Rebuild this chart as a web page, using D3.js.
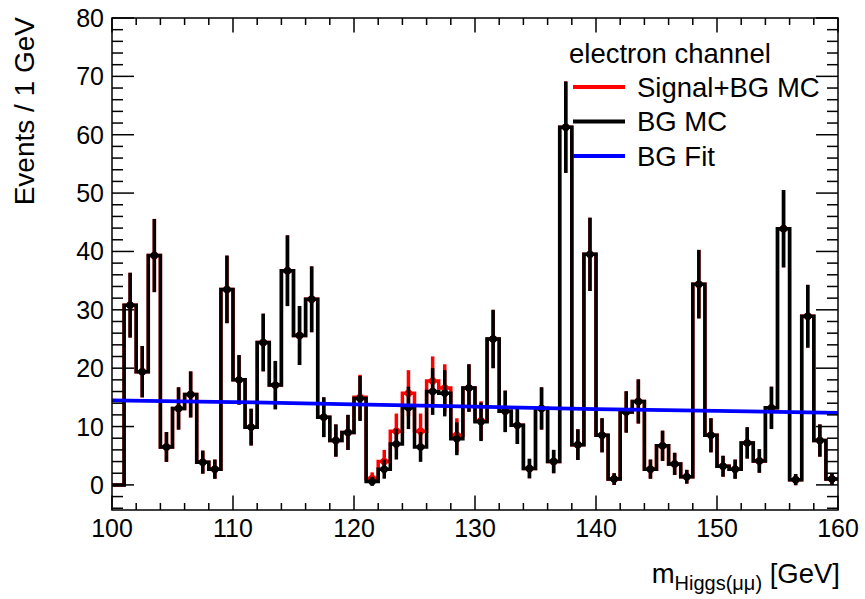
<!DOCTYPE html>
<html><head><meta charset="utf-8">
<script src="https://cdn.jsdelivr.net/npm/d3@7/dist/d3.min.js"></script>
<style>
html,body{margin:0;padding:0;background:#fff;}
svg text{font-family:"Liberation Sans",Arial,Helvetica,sans-serif;fill:#000;}
</style></head>
<body>
<svg id="c" width="865" height="599"></svg>
<script>
// ---- data ----
const binLow = [100,101,102,103,104,105,106,107,108,109,110,111,112,113,114,115,116,117,118,119,
                120,121,122,123,124,125,126,127,128,129,130,131,132,133,134,135,136,137,138,139,
                140,141,142,143,144,145,146,147,148,149,150,151,152,153,154,155,156,157,158,159];
const bgMC = [0,30.8,19.4,39.3,6.5,13.1,15.5,3.9,2.7,33.5,
              18.0,9.9,24.4,17.1,36.7,25.6,31.8,11.6,7.6,9.0,
              14.8,0.6,2.7,7.0,13.2,6.5,16.0,15.7,7.9,16.6,
              10.8,25.0,12.6,10.2,2.8,13.1,4.0,61.3,6.9,39.5,
              8.5,1.0,12.5,14.3,2.7,6.7,3.6,1.4,34.4,8.5,
              3.2,2.7,7.2,4.1,13.2,43.9,0.9,28.9,7.6,1.0];
const bgErr = [0,5.55,4.40,6.27,2.55,3.62,3.94,1.97,1.64,5.79,
               4.24,3.15,4.94,4.14,6.06,5.06,5.64,3.41,2.76,3.00,
               3.85,0.77,1.64,2.65,3.63,2.55,4.00,3.96,2.81,4.07,
               3.29,5.00,3.55,3.19,1.67,3.62,2.00,7.83,2.63,6.28,
               2.92,1.00,3.54,3.78,1.64,2.59,1.90,1.18,5.87,2.92,
               1.79,1.64,2.68,2.02,3.63,6.63,0.95,5.38,2.76,1.00];
const sigBG = [0,30.8,19.4,39.3,6.5,13.1,15.5,3.9,2.7,33.5,
               18.0,9.9,24.4,17.1,36.7,25.6,31.8,11.6,7.6,9.0,
               15.0,1.1,4.0,9.2,15.7,9.2,17.8,16.6,8.5,16.6,
               11.0,25.0,12.6,10.2,2.8,13.1,4.0,61.3,6.9,39.5,
               8.5,1.0,12.5,14.3,2.7,6.7,3.6,1.4,34.4,8.5,
               3.2,2.7,7.2,4.1,13.2,43.9,0.9,28.9,7.6,1.0];
const sigErr = [0,5.55,4.40,6.27,2.55,3.62,3.94,1.97,1.64,5.79,
                4.24,3.15,4.94,4.14,6.06,5.06,5.64,3.41,2.76,3.00,
                3.87,1.05,2.00,3.03,3.96,3.03,4.22,4.07,2.92,4.07,
                3.32,5.00,3.55,3.19,1.67,3.62,2.00,7.83,2.63,6.28,
                2.92,1.00,3.54,3.78,1.64,2.59,1.90,1.18,5.87,2.92,
                1.79,1.64,2.68,2.02,3.63,6.63,0.95,5.38,2.76,1.00];
const fitX = [100,110,120,130,140,150,160];
const fitY = [14.5,14.2,13.8,13.4,13.0,12.7,12.35];
const xTicks = [100,110,120,130,140,150,160];
const yTicks = [0,10,20,30,40,50,60,70,80];
const legendHeader = "electron channel";
const legendLabels = ["Signal+BG MC","BG MC","BG Fit"];
const legendColors = ["#ff0000","#000000","#0000ff"];

// ---- layout ----
const L=112, R=838, T=18, B=510;
const svg = d3.select("#c");
const x = d3.scaleLinear().domain([100,160]).range([L,R]);
const y = d3.scaleLinear().domain([-4.3,80]).range([B,T]);

svg.append("defs").append("clipPath").attr("id","clip")
  .append("rect").attr("x",L).attr("y",T).attr("width",R-L).attr("height",B-T);
const plot = svg.append("g").attr("clip-path","url(#clip)");

function stepPath(vals){
  const pts=[];
  vals.forEach((v,i)=>{ pts.push([binLow[i],v]); pts.push([binLow[i]+1,v]); });
  return d3.line().x(d=>x(d[0])).y(d=>y(d[1]))(pts);
}
function drawHist(vals, errs, color){
  const g = plot.append("g");
  g.append("path").attr("d",stepPath(vals)).attr("fill","none")
    .attr("stroke",color).attr("stroke-width",3.5).attr("stroke-linejoin","miter");
  const idx = vals.map((v,i)=>i).filter(i=>vals[i]>0);
  g.selectAll("line.err").data(idx).join("line")
    .attr("x1",i=>x(binLow[i]+0.5)).attr("x2",i=>x(binLow[i]+0.5))
    .attr("y1",i=>y(vals[i]-errs[i])).attr("y2",i=>y(vals[i]+errs[i]))
    .attr("stroke",color).attr("stroke-width",3.5);
  g.selectAll("circle").data(idx).join("circle")
    .attr("cx",i=>x(binLow[i]+0.5)).attr("cy",i=>y(vals[i])).attr("r",3.7)
    .attr("fill",color);
}
drawHist(sigBG, sigErr, "#ff0000");
drawHist(bgMC, bgErr, "#000000");

plot.append("path")
  .attr("d", d3.line().x((d,i)=>x(fitX[i])).y((d,i)=>y(fitY[i]))(fitX))
  .attr("fill","none").attr("stroke","#0000ff").attr("stroke-width",3.8);

// ---- frame and ticks ----
const ax = svg.append("g").attr("stroke","#000").attr("stroke-width",1.5);
ax.append("rect").attr("x",L).attr("y",T).attr("width",R-L).attr("height",B-T).attr("fill","none");
const xMinor = d3.range(100,161,2);
xMinor.forEach(v=>{
  const major = xTicks.includes(v);
  const len = major?14.5:7;
  ax.append("line").attr("x1",x(v)).attr("x2",x(v)).attr("y1",B).attr("y2",B-len);
  ax.append("line").attr("x1",x(v)).attr("x2",x(v)).attr("y1",T).attr("y2",T+len);
});
const yMinor = d3.range(-4,81,2);
yMinor.forEach(v=>{
  const major = yTicks.includes(v);
  const len = major?22:11;
  ax.append("line").attr("x1",L).attr("x2",L+len).attr("y1",y(v)).attr("y2",y(v));
  ax.append("line").attr("x1",R).attr("x2",R-len).attr("y1",y(v)).attr("y2",y(v));
});

// tick labels
svg.append("g").selectAll("text").data(xTicks).join("text")
  .attr("x",d=>x(d)).attr("y",537).attr("text-anchor","middle")
  .attr("font-size",25).text(d=>d);
svg.append("g").selectAll("text").data(yTicks).join("text")
  .attr("x",104).attr("y",d=>y(d)).attr("dy","0.36em").attr("text-anchor","end")
  .attr("font-size",25).text(d=>d);

// axis titles
svg.append("text").attr("transform","translate(34,17) rotate(-90)")
  .attr("text-anchor","end").attr("font-size",28).text("Events / 1 GeV");
const xt = svg.append("text").attr("x",840).attr("y",583).attr("text-anchor","end").attr("font-size",27.5);
xt.append("tspan").text("m");
xt.append("tspan").attr("font-size",20).attr("dy",7).text("Higgs(μμ)");
xt.append("tspan").attr("dy",-7).text(" [GeV]");

// legend
svg.append("text").attr("x",569).attr("y",63).attr("font-size",27.5).text(legendHeader);
const lg = svg.append("g").selectAll("g").data(legendLabels).join("g")
  .attr("transform",(d,i)=>`translate(0,${87+i*34.5})`);
lg.append("line").attr("x1",573).attr("x2",625).attr("y1",0).attr("y2",0)
  .attr("stroke",(d,i)=>legendColors[i]).attr("stroke-width",3.8);
lg.append("text").attr("x",637).attr("y",0).attr("dy","0.35em").attr("font-size",27.5).text(d=>d);
</script>
</body></html>
